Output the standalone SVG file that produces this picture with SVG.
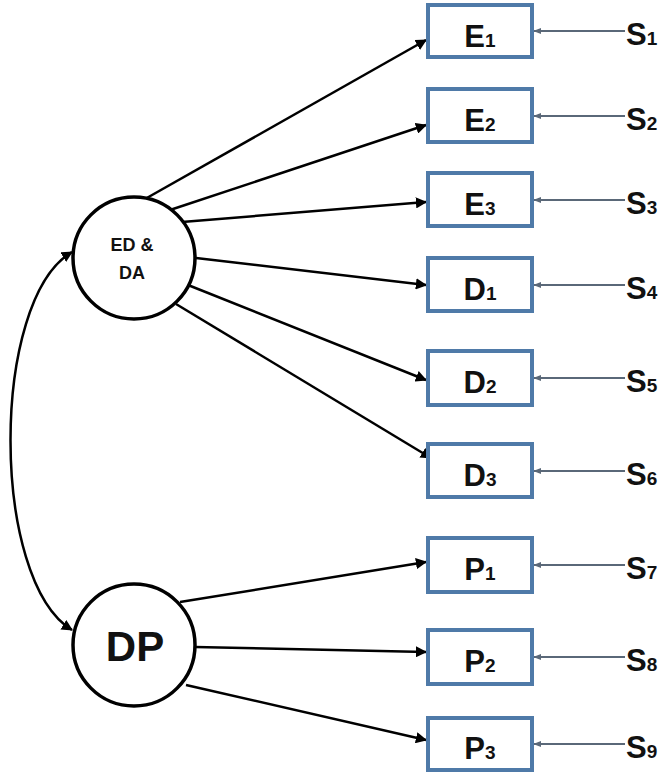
<svg xmlns="http://www.w3.org/2000/svg" width="668" height="772" viewBox="0 0 668 772">
<style>
.box{fill:#fff;stroke:#4f7aa8;stroke-width:4}
.circ{fill:#fff;stroke:#000;stroke-width:3.5}
.lbl{font-family:"Liberation Sans",Arial,sans-serif;font-weight:bold;fill:#111;}
.big{font-size:31px}
.sub{font-size:19px}
.path{stroke:#000;stroke-width:2.5;fill:none}
.err{stroke:#5a6878;stroke-width:2;fill:none}
</style>
<defs>
<marker id="ah" viewBox="0 0 10 10" refX="9" refY="5" markerWidth="4.5" markerHeight="4.5" orient="auto-start-reverse" markerUnits="strokeWidth">
<path d="M0,0 L10,5 L0,10 z" fill="#000"/>
</marker>
<marker id="ahs" viewBox="0 0 10 10" refX="9" refY="5" markerWidth="4" markerHeight="4" orient="auto" markerUnits="strokeWidth">
<path d="M0,1 L10,5 L0,9 z" fill="#5a6878"/>
</marker>
</defs>
<g id="connectors">
<path class="path" d="M72,252 C-10,300 -10,580 72,630" marker-start="url(#ah)" marker-end="url(#ah)"/>
<line class="path" x1="145" y1="199" x2="426" y2="40" marker-end="url(#ah)"/>
<line class="path" x1="170" y1="210" x2="426" y2="125" marker-end="url(#ah)"/>
<line class="path" x1="182" y1="222" x2="426" y2="202" marker-end="url(#ah)"/>
<line class="path" x1="196" y1="258" x2="426" y2="285" marker-end="url(#ah)"/>
<line class="path" x1="188" y1="285" x2="426" y2="380" marker-end="url(#ah)"/>
<line class="path" x1="176" y1="304" x2="431" y2="458" marker-end="url(#ah)"/>
<line class="path" x1="180" y1="602" x2="426" y2="562" marker-end="url(#ah)"/>
<line class="path" x1="195" y1="647" x2="426" y2="652" marker-end="url(#ah)"/>
<line class="path" x1="186" y1="685" x2="426" y2="740" marker-end="url(#ah)"/>
<line class="err" x1="625" y1="31" x2="534" y2="31" marker-end="url(#ahs)"/>
<line class="err" x1="625" y1="116" x2="534" y2="116" marker-end="url(#ahs)"/>
<line class="err" x1="625" y1="200" x2="534" y2="200" marker-end="url(#ahs)"/>
<line class="err" x1="625" y1="285" x2="534" y2="285" marker-end="url(#ahs)"/>
<line class="err" x1="625" y1="378" x2="534" y2="378" marker-end="url(#ahs)"/>
<line class="err" x1="625" y1="471" x2="534" y2="471" marker-end="url(#ahs)"/>
<line class="err" x1="625" y1="565" x2="534" y2="565" marker-end="url(#ahs)"/>
<line class="err" x1="625" y1="657" x2="534" y2="657" marker-end="url(#ahs)"/>
<line class="err" x1="625" y1="744" x2="534" y2="744" marker-end="url(#ahs)"/>
</g>
<g id="EDDA">
<circle class="circ" cx="134" cy="258" r="61"/>
<text class="lbl" x="132" y="251" font-size="18" text-anchor="middle" fill="#1c2436">ED &amp;</text>
<text class="lbl" x="132" y="279" font-size="18" text-anchor="middle" fill="#1c2436">DA</text>
</g>
<g id="DP">
<circle class="circ" cx="134" cy="645" r="61"/>
<text class="lbl" x="135" y="661" font-size="42" text-anchor="middle">DP</text>
</g>
<g id="E1"><rect class="box" x="428" y="5" width="104" height="52"/><text class="lbl big" x="480" y="47" text-anchor="middle">E<tspan class="sub">1</tspan></text></g>
<g id="E2"><rect class="box" x="428" y="89" width="104" height="53"/><text class="lbl big" x="480" y="131" text-anchor="middle">E<tspan class="sub">2</tspan></text></g>
<g id="E3"><rect class="box" x="428" y="173" width="104" height="53"/><text class="lbl big" x="480" y="215" text-anchor="middle">E<tspan class="sub">3</tspan></text></g>
<g id="D1"><rect class="box" x="428" y="258" width="104" height="53"/><text class="lbl big" x="480" y="300" text-anchor="middle">D<tspan class="sub">1</tspan></text></g>
<g id="D2"><rect class="box" x="428" y="351" width="104" height="54"/><text class="lbl big" x="480" y="393" text-anchor="middle">D<tspan class="sub">2</tspan></text></g>
<g id="D3"><rect class="box" x="428" y="444" width="104" height="53"/><text class="lbl big" x="480" y="486" text-anchor="middle">D<tspan class="sub">3</tspan></text></g>
<g id="P1"><rect class="box" x="428" y="538" width="104" height="54"/><text class="lbl big" x="480" y="580" text-anchor="middle">P<tspan class="sub">1</tspan></text></g>
<g id="P2"><rect class="box" x="428" y="630" width="104" height="54"/><text class="lbl big" x="480" y="672" text-anchor="middle">P<tspan class="sub">2</tspan></text></g>
<g id="P3"><rect class="box" x="428" y="718" width="104" height="52"/><text class="lbl big" x="480" y="759" text-anchor="middle">P<tspan class="sub">3</tspan></text></g>
<g id="S1"><text class="lbl big" x="626" y="45">S<tspan class="sub">1</tspan></text></g>
<g id="S2"><text class="lbl big" x="626" y="130">S<tspan class="sub">2</tspan></text></g>
<g id="S3"><text class="lbl big" x="626" y="214">S<tspan class="sub">3</tspan></text></g>
<g id="S4"><text class="lbl big" x="626" y="299">S<tspan class="sub">4</tspan></text></g>
<g id="S5"><text class="lbl big" x="626" y="392">S<tspan class="sub">5</tspan></text></g>
<g id="S6"><text class="lbl big" x="626" y="485">S<tspan class="sub">6</tspan></text></g>
<g id="S7"><text class="lbl big" x="626" y="579">S<tspan class="sub">7</tspan></text></g>
<g id="S8"><text class="lbl big" x="626" y="671">S<tspan class="sub">8</tspan></text></g>
<g id="S9"><text class="lbl big" x="626" y="758">S<tspan class="sub">9</tspan></text></g>
</svg>
